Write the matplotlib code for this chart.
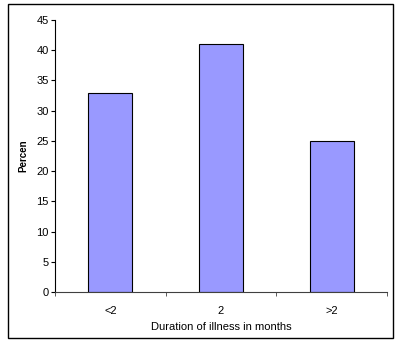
import matplotlib
matplotlib.use('Agg')
import matplotlib.pyplot as plt
from matplotlib.patches import Rectangle

categories = ['<2', '2', '>2']
percent = [33, 41, 25]
y_ticks = [0, 5, 10, 15, 20, 25, 30, 35, 40, 45]

plt.rcParams['font.family'] = ['Liberation Sans', 'DejaVu Sans']

fig = plt.figure(figsize=(4.0, 3.44), dpi=100)
ax = fig.add_axes([0.1375, 0.151, 0.83, 0.791])

x = range(len(categories))
ax.bar(x, percent, width=0.4, color='#9999ff', edgecolor='#000000', linewidth=0.8)

ax.set_xlim(-0.5, 2.5)
ax.set_ylim(0, 45)
ax.set_yticks(y_ticks)
ax.set_xticks(list(x))
ax.set_xticklabels(categories)
ax.set_xticks([-0.5, 0.5, 1.5, 2.5], minor=True)
ax.tick_params(axis='x', which='major', length=0, pad=10, labelsize=8)
ax.tick_params(axis='x', which='minor', length=3, direction='out', color='#404040')
ax.tick_params(axis='y', length=3, direction='out', labelsize=8, pad=1.5)

for side in ['top', 'right']:
    ax.spines[side].set_visible(False)
ax.spines['left'].set_color('#000000')
ax.spines['bottom'].set_color('#404040')
ax.spines['left'].set_linewidth(0.8)
ax.spines['bottom'].set_linewidth(0.8)

ax.set_xlabel('Duration of illness in months', fontsize=8, labelpad=4)
ax.set_ylabel('Percen', fontsize=7, fontweight='bold', labelpad=6)

# outer frame around the chart
fig.patches.append(Rectangle((0.02, 0.0174), 0.9625, 0.9696, transform=fig.transFigure,
                             fill=False, edgecolor='#000000', linewidth=1.0))

fig.savefig('out.png', dpi=100)
